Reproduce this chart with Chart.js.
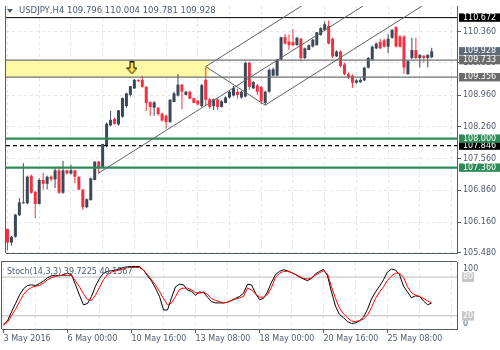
<!DOCTYPE html>
<html>
<head>
<meta charset="utf-8">
<script src="https://cdn.jsdelivr.net/npm/chart.js@4.4.1/dist/chart.umd.min.js"></script>
<style>
  html, body { margin: 0; padding: 0; background: #fff; }
  #wrap { position: relative; width: 500px; height: 350px; overflow: hidden; }
  canvas { position: absolute; left: 0; }
  #price { top: 0; }
  #stoch { top: 259px; }
</style>
</head>
<body>
<div id="wrap">
  <canvas id="price" width="500" height="259"></canvas>
  <canvas id="stoch" width="500" height="91"></canvas>
</div>
<script>
// USDJPY H4, bars from 3 May 08:00
const opens = [
  106.004, 105.707, 105.834, 106.310, 106.572, 106.572, 107.181, 106.827, 106.557, 107.088,
  107.003, 107.160, 107.103, 107.300, 106.805, 107.300, 107.230, 107.300, 107.160, 106.875,
  106.487, 106.642, 107.088, 107.492, 107.373, 107.847, 108.293, 108.435, 108.314, 108.484,
  108.718, 108.966, 109.107, 109.292, 109.298, 109.143, 108.809, 108.682, 108.682, 108.554,
  108.505, 108.363, 108.809, 108.952, 109.192, 108.966, 109.036, 108.894, 108.839, 108.718,
  109.300, 108.870, 108.718, 108.867, 108.700, 108.788, 108.909, 108.952, 109.036, 108.909,
  108.930, 109.674, 109.107, 109.179, 109.143, 108.788, 109.036, 109.391, 109.391, 109.744,
  110.241, 110.142, 110.135, 110.063, 110.205, 109.780, 109.957, 110.035, 110.063, 110.290,
  110.396, 110.488, 110.205, 109.816, 109.923, 109.638, 109.425, 109.391, 109.234, 109.249,
  109.285, 109.568, 109.744, 109.993, 110.135, 110.169, 110.029, 110.226, 110.460, 110.254,
  110.254, 109.425, 109.780, 109.957, 109.780, 109.829, 109.780, 109.796
];
const highs = [
  106.019, 105.849, 106.338, 106.684, 107.458, 107.188, 107.209, 106.848, 107.124, 107.252,
  107.188, 107.194, 107.373, 107.385, 107.513, 107.315, 107.422, 107.315, 107.167, 106.890,
  106.678, 107.145, 107.507, 107.507, 107.889, 108.357, 108.611, 108.463, 108.633, 108.909,
  109.015, 109.164, 109.319, 109.313, 109.391, 109.164, 108.824, 108.824, 108.697, 108.569,
  108.527, 108.867, 109.036, 109.425, 109.207, 109.058, 109.058, 108.909, 108.845, 109.207,
  109.568, 108.900, 108.888, 108.900, 108.845, 108.930, 109.058, 109.164, 109.107, 109.058,
  109.695, 109.695, 109.270, 109.207, 109.164, 109.058, 109.546, 109.568, 109.759, 110.248,
  110.312, 110.297, 110.418, 110.248, 110.227, 110.014, 110.078, 110.205, 110.354, 110.460,
  110.588, 110.609, 110.227, 109.950, 109.950, 109.674, 109.461, 109.419, 109.313, 109.334,
  109.589, 109.801, 110.057, 110.120, 110.205, 110.205, 110.311, 110.418, 110.482, 110.290,
  110.290, 109.738, 110.227, 110.227, 109.865, 109.844, 109.865, 110.004
];
const lows = [
  105.530, 105.637, 105.820, 106.295, 106.561, 106.550, 106.784, 106.238, 106.550, 106.875,
  106.875, 107.054, 106.911, 106.784, 106.784, 107.209, 107.209, 107.018, 106.869, 106.429,
  106.465, 106.635, 107.082, 107.230, 107.358, 107.810, 108.272, 108.314, 108.293, 108.463,
  108.682, 108.930, 109.100, 109.249, 109.122, 108.611, 108.505, 108.505, 108.505, 108.378,
  108.223, 108.357, 108.803, 108.930, 108.648, 108.952, 108.867, 108.782, 108.733, 108.697,
  108.739, 108.654, 108.633, 108.633, 108.690, 108.782, 108.888, 108.930, 108.888, 108.888,
  108.909, 109.073, 109.100, 108.966, 108.760, 108.739, 109.015, 109.377, 109.377, 109.738,
  110.078, 109.957, 110.035, 110.057, 109.710, 109.759, 109.950, 110.014, 110.057, 110.269,
  110.375, 110.078, 109.780, 109.801, 109.568, 109.398, 109.319, 109.122, 109.213, 109.228,
  109.270, 109.546, 109.716, 109.971, 109.971, 110.014, 109.886, 110.205, 110.014, 110.014,
  109.425, 109.408, 109.759, 109.759, 109.568, 109.674, 109.568, 109.781
];
const closes = [
  105.707, 105.834, 106.323, 106.593, 106.593, 107.160, 106.805, 106.557, 107.088, 107.003,
  107.160, 107.103, 107.300, 106.805, 107.300, 107.230, 107.300, 107.160, 106.875, 106.487,
  106.663, 107.124, 107.492, 107.373, 107.883, 108.329, 108.414, 108.329, 108.626, 108.894,
  109.000, 109.158, 109.298, 109.270, 109.143, 108.788, 108.697, 108.803, 108.541, 108.399,
  108.363, 108.860, 109.000, 109.192, 109.036, 109.036, 108.881, 108.788, 108.754, 109.179,
  108.860, 108.700, 108.867, 108.700, 108.824, 108.909, 109.036, 109.122, 108.966, 109.036,
  109.674, 109.143, 109.249, 109.036, 108.824, 109.036, 109.519, 109.532, 109.744, 110.241,
  110.099, 110.063, 110.063, 110.227, 109.780, 109.993, 110.063, 110.184, 110.348, 110.439,
  110.524, 110.099, 109.816, 109.923, 109.604, 109.425, 109.355, 109.234, 109.285, 109.298,
  109.568, 109.780, 110.029, 110.099, 109.993, 110.029, 110.205, 110.397, 110.035, 110.029,
  109.568, 109.710, 109.957, 109.780, 109.850, 109.780, 109.850, 109.928
];

// Stochastic(14,3,3): main and signal
const stochK = [
  6, 12, 26, 39, 52, 62, 67, 68, 67, 70,
  74, 79, 82, 83, 82, 84, 86, 84, 68, 52,
  37, 39, 50, 66, 78, 86, 89, 90, 91, 93,
  95, 96, 96.5, 96.5, 96.5, 91, 82, 74, 63, 50,
  29, 29, 48, 65, 69, 68, 60, 58, 52, 57,
  56, 49, 42, 40, 40, 40, 41, 44, 47, 50,
  55, 69, 68, 55, 45, 47, 57, 72, 84, 89,
  91.5, 90, 87, 84, 80, 77, 74.5, 78, 85, 89,
  92, 82, 57, 35, 22, 17, 11, 8, 9, 12,
  18, 30, 46, 57, 66, 76, 88, 92.5, 91, 84,
  66, 57, 48, 51, 50, 43, 37, 39.7225
];
const stochD = [
  6, 10, 20, 30, 42, 53, 60, 64, 66, 67,
  71, 76, 79, 81, 82.5, 82.5, 82.5, 82.5, 74, 65,
  54, 45, 44, 52, 64, 76, 84, 88, 89.5, 91,
  93, 94.8, 95, 95, 94.8, 91, 84, 76, 68, 58,
  47, 37, 40, 50, 61, 63, 63, 60, 56, 55,
  57, 53, 47, 44, 42, 40, 41, 44, 46, 48,
  50, 63, 60, 54, 49, 49, 53, 64, 80, 86,
  89, 89, 87, 84, 81, 78, 77, 79, 83, 87,
  89.7, 85, 65, 47, 32, 23, 17, 12, 11, 12.5,
  15, 21, 33, 47, 57, 65, 75, 82, 86, 86,
  80, 65, 56, 52, 50, 47, 43, 40.1567
];

const priceTicks = [105.48, 106.16, 106.86, 107.56, 108.26, 108.96, 109.68, 110.36];
// tags are painted in this order, later ones on top
const levelPrices = [110.672, 109.928, 109.733, 109.356, 107.846, 108.000, 107.360];
const stochTicks = [0, 20, 80, 100];
const stochLevels = [80, 20];
const timeLabels = ['3 May 2016', '6 May 00:00', '10 May 16:00', '13 May 08:00', '18 May 00:00', '20 May 16:00', '25 May 08:00'];
const gridBars = [0, 8, 16, 24, 32, 40, 48, 56, 64, 72, 80, 88, 96, 104, 112];

// pitchfork: handle from the 6 May low, tines through the 13 May high and 18 May low
const forkBars = [[22.8, 89.7], [50, 74.2], [65, 104.6]];
const forkPrices = [[107.23, 110.93], [109.59, 110.93], [108.74, 110.93]];
const forkLegBars = [50, 65];
const forkLegPrices = [109.59, 108.74];

// supply zone
const zoneBars = [-1, 50.8];
const zonePrices = [109.733, 109.356];

const arrowBars = [31.4];
const arrowPrices = [109.56];

// ---- styles ----
const FONT = "'DejaVu Sans', sans-serif";
const frameColor = '#525e6c';
const textColor = '#4c5b70';
const gridColor = '#e4e4e4';
const bullColor = '#3c4858';
const bearColor = '#f3303f';
const xMin = -0.375, xMax = 113.375;

const levelStyles = [
  { color: '#000000', width: 1, dash: [] },
  null,
  { color: '#707070', width: 1.3, dash: [] },
  { color: '#707070', width: 1.3, dash: [] },
  { color: '#000000', width: 1.3, dash: [4, 3] },
  { color: '#2e8b57', width: 2.2, dash: [] },
  { color: '#2e8b57', width: 2.2, dash: [] }
];
const levelTagColors = ['#000000', '#5e6a78', '#6b6b6b', '#6b6b6b', '#000000', '#2e8b57', '#2e8b57'];

Chart.defaults.font.family = FONT;
Chart.defaults.font.size = 8;

const candleColors = opens.map((o, i) => (closes[i] >= o ? bullColor : bearColor));

function makeArrow() {
  const c = document.createElement('canvas');
  c.width = 11; c.height = 13;
  const g = c.getContext('2d');
  g.beginPath();
  g.moveTo(3.5, 0.5); g.lineTo(7.5, 0.5); g.lineTo(7.5, 6.5); g.lineTo(10.5, 6.5);
  g.lineTo(5.5, 12.3); g.lineTo(0.5, 6.5); g.lineTo(3.5, 6.5); g.closePath();
  g.fillStyle = '#ffe24a'; g.fill();
  g.strokeStyle = '#000'; g.lineWidth = 1; g.stroke();
  return c;
}

const framePlugin = {
  id: 'frame',
  afterDraw(chart, args, opts) {
    const { ctx, chartArea: a } = chart;
    ctx.save();
    ctx.strokeStyle = frameColor;
    ctx.lineWidth = 1;
    ctx.beginPath();
    ctx.moveTo(a.left - 0.5, a.top - (opts.top ? 1 : 0));
    ctx.lineTo(a.left - 0.5, a.bottom);
    if (opts.top) {
      ctx.moveTo(a.left - 1, a.top - 0.5);
      ctx.lineTo(a.right, a.top - 0.5);
    }
    ctx.stroke();
    ctx.restore();
  }
};

const titlePlugin = {
  id: 'symbolTitle',
  afterDraw(chart) {
    const ctx = chart.ctx;
    const n = closes.length - 1;
    ctx.save();
    ctx.fillStyle = textColor;
    ctx.beginPath();
    ctx.moveTo(7, 9); ctx.lineTo(13, 9); ctx.lineTo(10, 13); ctx.closePath();
    ctx.fill();
    ctx.font = '8.5px ' + FONT;
    ctx.textBaseline = 'middle';
    ctx.fillText('USDJPY,H4 ' + [opens[n], highs[n], lows[n], closes[n]].map(v => v.toFixed(3)).join(' '), 19, 11);
    ctx.restore();
  }
};

const stochTitlePlugin = {
  id: 'stochTitle',
  afterDraw(chart) {
    const ctx = chart.ctx;
    const n = stochK.length - 1;
    ctx.save();
    ctx.fillStyle = textColor;
    ctx.font = '8px ' + FONT;
    ctx.textBaseline = 'middle';
    ctx.fillText('Stoch(14,3,3) ' + stochK[n].toFixed(4) + ' ' + stochD[n].toFixed(4), 7, 13);
    ctx.restore();
  }
};

const hLine = (y, style, order) => ({
  type: 'line',
  data: [{ x: xMin, y }, { x: xMax, y }],
  borderColor: style.color,
  borderWidth: style.width,
  borderDash: style.dash,
  pointRadius: 0,
  order
});

const levelSets = [];
levelPrices.forEach((p, k) => { if (levelStyles[k]) levelSets.push(hLine(p, levelStyles[k], 3)); });

const forkSets = forkBars.map((b, k) => ({
  type: 'line',
  data: [{ x: b[0], y: forkPrices[k][0] }, { x: b[1], y: forkPrices[k][1] }],
  borderColor: '#616161', borderWidth: 1, pointRadius: 0, order: 2
}));
forkSets.push({
  type: 'line',
  data: [{ x: forkLegBars[0], y: forkLegPrices[0] }, { x: forkLegBars[1], y: forkLegPrices[1] }],
  borderColor: '#616161', borderWidth: 1, pointRadius: 0, order: 2
});

new Chart(document.getElementById('price'), {
  type: 'bar',
  data: {
    datasets: [
      {
        type: 'line',
        data: [{ x: zoneBars[0], y: zonePrices[0] }, { x: zoneBars[1], y: zonePrices[0] }],
        fill: { value: zonePrices[1] },
        backgroundColor: '#fef8a4',
        borderWidth: 0, pointRadius: 0, order: 10
      },
      {
        data: opens.map((o, i) => ({ x: i, y: [lows[i], highs[i]] })),
        backgroundColor: candleColors, barThickness: 1, grouped: false,
        borderWidth: 0, inflateAmount: 0, order: 5
      },
      {
        data: opens.map((o, i) => ({ x: i, y: [o, closes[i]] })),
        backgroundColor: candleColors, barThickness: 3, minBarLength: 1, grouped: false,
        borderWidth: 0, inflateAmount: 0, order: 4
      },
      ...levelSets,
      ...forkSets,
      {
        type: 'line', showLine: false,
        data: arrowBars.map((b, i) => ({ x: b, y: arrowPrices[i] })),
        pointStyle: makeArrow(), pointRadius: 5, order: 1
      }
    ]
  },
  options: {
    responsive: false,
    animation: false,
    events: [],
    layout: { padding: { left: 2, top: 1, right: 0, bottom: 2 } },
    plugins: { legend: { display: false }, tooltip: { enabled: false }, frame: { top: false } },
    scales: {
      x: {
        type: 'linear', min: xMin, max: xMax, offset: false,
        afterBuildTicks: s => { s.ticks = gridBars.map(v => ({ value: v })); },
        afterFit: s => { s.height = 0; s.paddingLeft = 0; s.paddingRight = 0; },
        ticks: { display: false },
        grid: { offset: false, color: gridColor, drawTicks: false },
        border: { color: frameColor, dash: [3, 3] }
      },
      y: {
        position: 'right', min: 105.476, max: 110.928,
        afterBuildTicks: s => { s.ticks = priceTicks.concat(levelPrices).map(v => ({ value: v })); },
        afterFit: s => { s.width = 43; s.paddingTop = 0; s.paddingBottom = 0; },
        ticks: {
          autoSkip: false, padding: 2,
          callback: v => v.toFixed(3),
          color: c => (c.index >= priceTicks.length ? '#ffffff' : textColor),
          showLabelBackdrop: c => c.index >= priceTicks.length,
          backdropColor: c => levelTagColors[c.index - priceTicks.length] || 'rgba(0,0,0,0)',
          backdropPadding: { left: 4, right: 6, top: -0.6, bottom: -0.6 }
        },
        grid: {
          color: c => (c.index < priceTicks.length ? gridColor : 'rgba(0,0,0,0)'),
          tickLength: 4,
          tickColor: c => (c.index < priceTicks.length ? frameColor : 'rgba(0,0,0,0)'),
          tickBorderDash: []
        },
        border: { color: frameColor, dash: [3, 3] }
      }
    }
  },
  plugins: [framePlugin, titlePlugin]
});

new Chart(document.getElementById('stoch'), {
  type: 'line',
  data: {
    datasets: [
      ...stochLevels.map(v => hLine(v, { color: '#bdbdbd', width: 1, dash: [] }, 5)),
      {
        data: stochK.map((v, i) => ({ x: i, y: v })),
        borderColor: '#000000', borderWidth: 1, pointRadius: 0, tension: 0, order: 2
      },
      {
        data: stochD.map((v, i) => ({ x: i, y: v })),
        borderColor: '#ff0000', borderWidth: 1, pointRadius: 0, tension: 0, order: 1
      }
    ]
  },
  options: {
    responsive: false,
    animation: false,
    events: [],
    layout: { padding: { left: 2, top: 3, right: 0, bottom: 0 } },
    plugins: { legend: { display: false }, tooltip: { enabled: false }, frame: { top: true } },
    scales: {
      x: {
        type: 'linear', min: xMin, max: xMax, offset: false,
        afterBuildTicks: s => { s.ticks = gridBars.map(v => ({ value: v })); },
        afterFit: s => { s.height = 21; s.paddingLeft = 0; s.paddingRight = 0; },
        ticks: {
          autoSkip: false, maxRotation: 0, minRotation: 0, align: 'start', padding: 1,
          color: textColor,
          callback: v => (v % 16 === 0 ? (timeLabels[v / 16] || '') : '')
        },
        grid: {
          offset: false, color: gridColor, tickLength: 4,
          tickColor: c => (c.tick && c.tick.value % 16 === 0 && c.tick.value <= 96 ? frameColor : 'rgba(0,0,0,0)'),
          tickBorderDash: []
        },
        border: { color: frameColor, dash: [3, 3] }
      },
      y: {
        position: 'right', min: -0.5, max: 103.5,
        afterBuildTicks: s => { s.ticks = stochTicks.map(v => ({ value: v })); },
        afterFit: s => { s.width = 43; s.paddingTop = 0; s.paddingBottom = 0; },
        ticks: {
          autoSkip: false, padding: 2,
          callback: v => (v === 100 ? ['', '100'] : v === 0 ? ['0', ''] : String(v)),
          color: c => (stochLevels.includes(c.tick && c.tick.value) ? '#ffffff' : textColor),
          showLabelBackdrop: c => stochLevels.includes(c.tick && c.tick.value),
          backdropColor: '#c6c6c6',
          backdropPadding: { left: 1, right: 1, top: 0, bottom: 0 }
        },
        grid: { drawOnChartArea: false, tickLength: 4, tickColor: 'rgba(0,0,0,0)' },
        border: { color: frameColor }
      }
    }
  },
  plugins: [framePlugin, stochTitlePlugin]
});
</script>
</body>
</html>
